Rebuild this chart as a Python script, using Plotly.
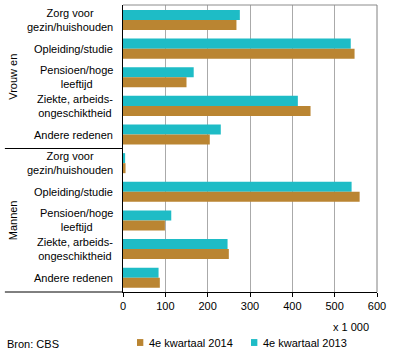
import plotly.graph_objects as go

# ---- data ----
groups = ["Vrouw en", "Mannen"]
categories = ["Zorg voor<br>gezin/huishouden", "Opleiding/studie", "Pensioen/hoge<br>leeftijd",
              "Ziekte, arbeids-<br>ongeschiktheid", "Andere redenen"]
vrouwen_2014 = [268, 547, 150, 443, 205]
vrouwen_2013 = [276, 538, 167, 413, 231]
mannen_2014 = [6, 559, 99, 250, 87]
mannen_2013 = [5, 540, 114, 247, 84]
series_names = ["4e kwartaal 2014", "4e kwartaal 2013"]
x_ticks = [0, 100, 200, 300, 400, 500, 600]

BROWN = "#BA8532"
TEAL = "#1EBCC6"
FONT = "Liberation Sans, Arial, sans-serif"

# unique category keys per group
keys = [f"V{i}" for i in range(len(categories))] + [f"M{i}" for i in range(len(categories))]
labels = categories + categories
vals_2014 = vrouwen_2014 + mannen_2014
vals_2013 = vrouwen_2013 + mannen_2013

fig = go.Figure()
fig.add_trace(go.Bar(y=keys, x=vals_2013, orientation="h", name=series_names[1],
                     marker=dict(color=TEAL, line=dict(width=0)), showlegend=False))
fig.add_trace(go.Bar(y=keys, x=vals_2014, orientation="h", name=series_names[0],
                     marker=dict(color=BROWN, line=dict(width=0)), showlegend=False))

annotations = []
shapes = []
# category labels (centered lines, right-aligned block)
for k, lab in zip(keys, labels):
    annotations.append(dict(x=0, xref="paper", y=k, yref="y", text=lab, showarrow=False,
                            xanchor="right", xshift=-8, align="center",
                            font=dict(family=FONT, size=11, color="#000")))
# group labels
for g, yc in zip(groups, [0.75, 0.25]):
    annotations.append(dict(x=-0.433, xref="paper", y=yc, yref="paper", text=g, textangle=-90,
                            showarrow=False, xanchor="center", yanchor="middle",
                            font=dict(family=FONT, size=11, color="#000")))
# unit
annotations.append(dict(x=0.976, xref="paper", y=-0.122, yref="paper", text="x 1 000",
                        showarrow=False, xanchor="right", yanchor="middle",
                        font=dict(family=FONT, size=11, color="#000")))
# source
annotations.append(dict(x=-0.465, xref="paper", y=-0.18, yref="paper", text="Bron: CBS",
                        showarrow=False, xanchor="left", yanchor="middle",
                        font=dict(family=FONT, size=11, color="#000")))
# manual legend
for name, col, x0, xt in [(series_names[0], BROWN, 0.055, 0.0945),
                          (series_names[1], TEAL, 0.504, 0.543)]:
    shapes.append(dict(type="rect", xref="paper", yref="paper", x0=x0, x1=x0 + 0.025,
                       y0=-0.164, y1=-0.188, fillcolor=col, line=dict(width=0)))
    annotations.append(dict(x=xt, xref="paper", y=-0.176, yref="paper", text=name,
                            showarrow=False, xanchor="left", yanchor="middle",
                            font=dict(family=FONT, size=11, color="#000")))

# divider lines in label area
shapes.append(dict(type="line", xref="paper", yref="paper", x0=-0.465, x1=0, y0=0.5, y1=0.5,
                   line=dict(color="#000", width=1)))
shapes.append(dict(type="line", xref="paper", yref="paper", x0=-0.465, x1=0, y0=0, y1=0,
                   line=dict(color="#000", width=1)))
# frame top and right
shapes.append(dict(type="line", xref="paper", yref="paper", x0=0, x1=1, y0=1, y1=1,
                   line=dict(color="#8C8C8C", width=1)))
shapes.append(dict(type="line", xref="paper", yref="paper", x0=1, x1=1, y0=0, y1=1,
                   line=dict(color="#808080", width=1)))

fig.update_layout(
    width=396, height=357,
    margin=dict(l=123, r=19, t=5, b=65),
    paper_bgcolor="white", plot_bgcolor="white",
    barmode="group", bargap=0.3, bargroupgap=0,
    showlegend=False,
    annotations=annotations, shapes=shapes,
    font=dict(family=FONT, size=11, color="#000"),
    xaxis=dict(range=[0, 600], tickvals=x_ticks, showgrid=True, gridcolor="#AAAAAA",
               gridwidth=1, showline=True, linecolor="#000", linewidth=1,
               ticks="outside", ticklen=4, tickcolor="#000", zeroline=False,
               tickfont=dict(family=FONT, size=11, color="#000")),
    yaxis=dict(type="category", categoryorder="array", categoryarray=keys,
               autorange="reversed", showticklabels=False, showgrid=False,
               showline=True, linecolor="#000", linewidth=1, ticks=""),
)

fig.write_html("out.html", config={"displayModeBar": False},
               post_script="document.body.style.margin='0';")
